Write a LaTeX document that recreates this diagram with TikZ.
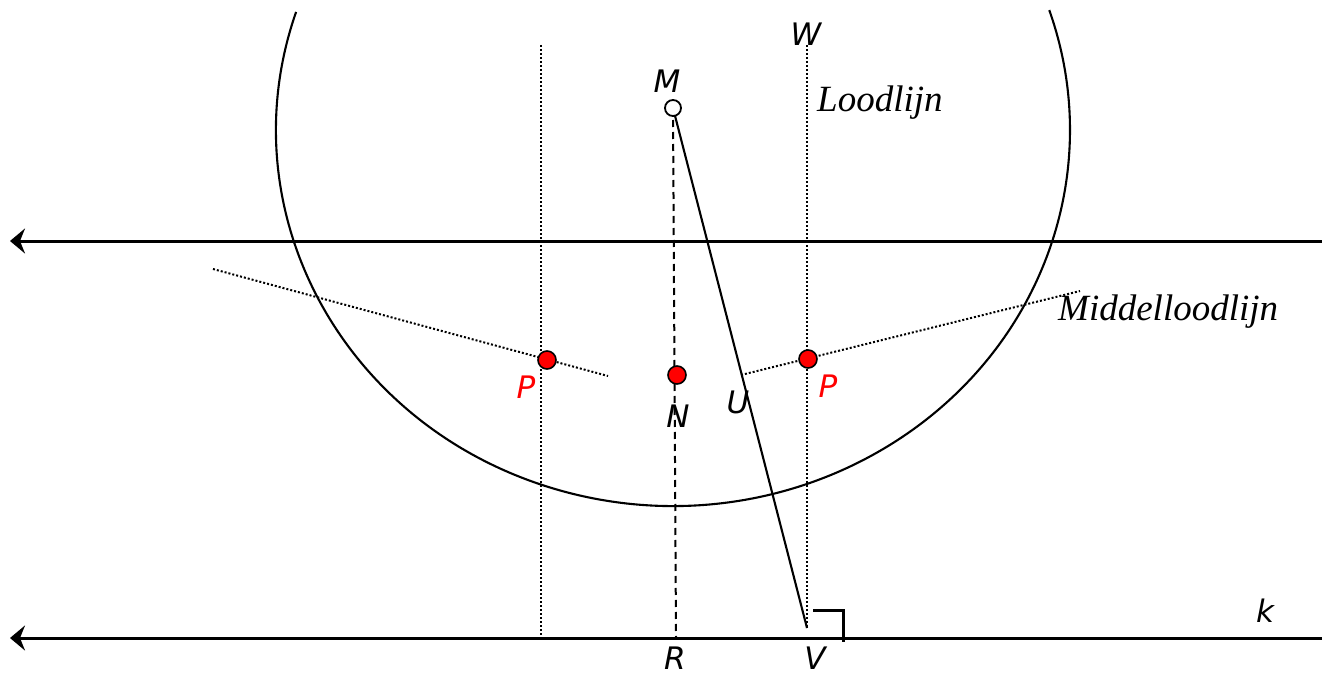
\documentclass[tikz,border=0pt]{standalone}
\usepackage{fontspec}
\setmainfont{Liberation Serif}
\setsansfont{DejaVu Sans}
\usetikzlibrary{arrows.meta}
\begin{document}
\begin{tikzpicture}[x=1pt,y=-1pt,
  mainline/.style={line width=3pt,-{Stealth[length=15pt,width=25pt,inset=5pt]}},
  thin/.style={line width=2.1pt},
  dotline/.style={line width=2pt,dash pattern=on 2pt off 2pt},
  dashline/.style={line width=2pt,dash pattern=on 7pt off 5pt},
  reddot/.style={circle,fill=red,draw=black,line width=1.6pt,minimum size=18pt,inner sep=0pt},
  opendot/.style={circle,fill=white,draw=black,line width=1.8pt,minimum size=16pt,inner sep=0pt},
  lbl/.style={inner sep=0pt,font=\sffamily\itshape\fontsize{31}{34}\selectfont},
  redlbl/.style={lbl,text=red},
  serlbl/.style={inner sep=0pt,anchor=base west,font=\rmfamily\itshape\fontsize{37}{42}\selectfont}]
\useasboundingbox (0,0) rectangle (1322,674);
% coordinates
\coordinate (Mc) at (673,108);
\coordinate (Vc) at (807,628);
\coordinate (Wtop) at (807,45);
\coordinate (Ltop) at (541,45);
\coordinate (Lbot) at (541,638);
\coordinate (Rc) at (676,638);
\coordinate (h1r) at (1322,241);
\coordinate (h1l) at (10,241);
\coordinate (h2r) at (1322,638);
\coordinate (h2l) at (10,638);
\coordinate (dl1) at (213,269);
\coordinate (dl2) at (608,376);
\coordinate (dr1) at (741,375);
\coordinate (dr2) at (1080,291);
% circle arc (ellipse centred near M)
\draw[thin] (673,130) ++(-161.7:397 and 376) arc[start angle=-161.7,end angle=-378.6,x radius=397,y radius=376];
% horizontal lines
\draw[mainline] (h1r) -- (h1l);
\draw[mainline] (h2r) -- (h2l);
% vertical dotted lines
\draw[dotline] (Ltop) -- (Lbot);
\draw[dotline] (Wtop) -- (Vc);
% dashed line M-R
\draw[dashline] (Mc) -- (Rc);
% solid line M-V
\draw[thin] (Mc) -- (Vc);
% middelloodlijn dotted
\draw[dotline] (dl1) -- (dl2);
\draw[dotline] (dr1) -- (dr2);
% right angle mark
\draw[line width=3pt] (813,610) -- (843,610) -- (843,642);
% points
\node[opendot] (M) at (Mc) {};
\node[reddot] (P1) at (547,360) {};
\node[reddot] (N) at (677,375) {};
\node[reddot] (P2) at (808,359) {};
% labels
\node[lbl] (lW) at (806,34) {W};
\node[lbl] (lM) at (667,81) {M};
\node[redlbl] (lP1) at (526,387) {P};
\node[redlbl] (lP2) at (828,386) {P};
\node[lbl] (lN) at (678,416) {N};
\node[lbl] (lU) at (738,402) {U};
\node[lbl] (lR) at (675,658) {R};
\node[lbl] (lV) at (815,658) {V};
\node[lbl,anchor=base] (lk) at (1265,622) {k};
\node[serlbl] (lLood) at (817,112) {Loodlijn};
\node[serlbl] (lMid) at (1058,320) {Middelloodlijn};
\end{tikzpicture}
\end{document}
